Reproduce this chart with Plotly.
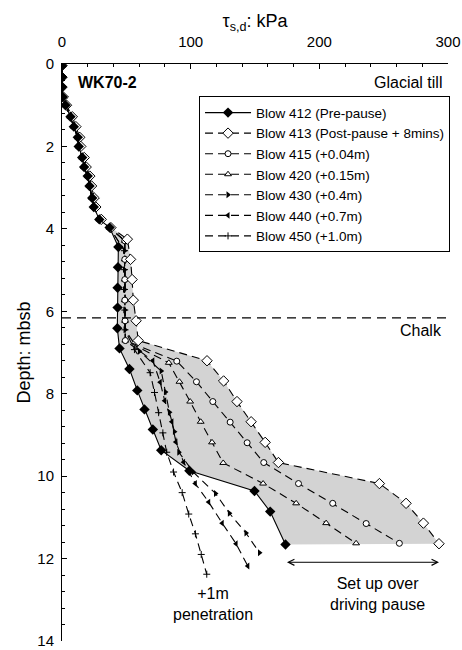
import plotly.graph_objects as go

# ---------------- data ----------------
# common profile in glacial till (all blows practically coincide)
D_TOP = [0.04, 0.32, 0.56, 0.80, 1.00, 1.28, 1.52, 1.78, 2.00, 2.27, 2.50, 2.72,
         2.96, 3.25, 3.47, 3.77, 3.97]
V_TOP_412 = [0, 0, 0, 0.5, 2.7, 6.6, 9.2, 12.3, 13.0, 15.7, 17.2, 20.0, 21.4,
             23.5, 24.7, 29.0, 37.0]
V_TOP_413 = [0, 0, 0, 1.0, 3.5, 8.0, 10.8, 13.8, 14.6, 17.3, 18.8, 21.6, 23.0,
             25.0, 26.3, 30.5, 38.0]

# Blow 412 (pre-pause)
D412 = D_TOP + [4.44, 4.93, 5.43, 5.91, 6.41, 6.90, 7.40, 7.92, 8.38, 8.87,
                9.37, 9.87, 10.36, 10.86, 11.66]
V412 = V_TOP_412 + [43.8, 43.5, 43.2, 43.2, 43.0, 44.7, 52.4, 58.5, 64.1, 70.6,
                    77.1, 99.0, 149.6, 161.8, 173.7]

# Blow 413 (post-pause + 8 mins)
D413 = D_TOP + [4.25, 4.74, 5.23, 5.73, 6.23, 6.71, 7.20, 7.69, 8.19, 8.68,
                9.18, 9.67, 10.18, 10.66, 11.14, 11.64]
V413 = V_TOP_413 + [50.8, 53.3, 54.5, 55.4, 57.6, 59.2, 112.7, 125.6, 136.0,
                    147.0, 157.9, 168.2, 246.7, 267.4, 280.9, 293.0]

# Blow 415 (+0.04 m)
D415 = D_TOP + [4.29, 4.74, 5.23, 5.73, 6.23, 6.71, 7.21, 7.71, 8.19, 8.69,
                9.19, 9.67, 10.18, 10.66, 11.15, 11.63]
V415 = V_TOP_412 + [48.8, 48.8, 48.8, 48.8, 49.0, 49.2, 89.2, 104.5, 117.2,
                    130.7, 143.9, 156.8, 183.8, 210.4, 236.4, 262.2]

# Blow 420 (+0.15 m)
D420 = D_TOP + [4.29, 4.74, 5.23, 5.73, 6.23, 6.71, 7.25, 7.71, 8.19, 8.68,
                9.18, 9.68, 10.18, 10.66, 11.14, 11.63]
V420 = V_TOP_412 + [48.8, 48.8, 48.8, 48.8, 49.0, 49.2, 83.0, 91.3, 99.6,
                    107.8, 116.6, 125.3, 156.3, 182.0, 205.3, 228.6]

# Blow 430 (+0.4 m)
D430 = D_TOP + [4.53, 4.99, 5.47, 5.97, 6.45, 6.97, 7.45, 7.96, 8.45, 8.92,
                9.42, 9.90, 10.42, 10.90, 11.38, 11.86]
V430 = V_TOP_412 + [48.6, 48.6, 48.6, 48.8, 49.0, 60.2, 77.1, 80.4, 83.5,
                    87.4, 90.8, 102.0, 119.3, 130.1, 143.0, 153.5]

# Blow 440 (+0.7 m)
D440 = D_TOP + [4.29, 4.74, 5.23, 5.73, 6.23, 6.71, 7.20, 7.72, 8.17, 8.68,
                9.17, 9.66, 10.18, 10.63, 11.14, 11.64, 12.18]
V440 = V_TOP_412 + [48.8, 48.8, 48.8, 48.8, 49.0, 49.2, 70.6, 76.3, 79.8,
                    85.4, 88.5, 94.5, 103.6, 114.0, 124.5, 135.3, 144.4]

# Blow 450 (+1.0 m)
D450 = D_TOP + [4.53, 4.99, 5.47, 5.97, 6.45, 6.93, 7.49, 7.97, 8.46, 8.95,
                9.42, 9.90, 10.40, 10.92, 11.40, 11.90, 12.38]
V450 = V_TOP_412 + [48.6, 48.6, 48.6, 48.8, 49.0, 56.3, 68.5, 71.9, 75.1,
                    78.4, 81.4, 86.7, 93.4, 98.5, 103.7, 108.2, 112.5]

NAMES = ["Blow 412 (Pre-pause)", "Blow 413 (Post-pause + 8mins)",
         "Blow 415 (+0.04m)", "Blow 420 (+0.15m)", "Blow 430 (+0.4m)",
         "Blow 440 (+0.7m)", "Blow 450 (+1.0m)"]

CHALK_DEPTH = 6.16
X_TICKS = [0, 100, 200, 300]
Y_TICKS = [0, 2, 4, 6, 8, 10, 12, 14]

# ---------------- figure ----------------
FONT = "Liberation Sans, Arial, sans-serif"
fig = go.Figure()

# shaded set-up zone between blow 412 and blow 413 (below the till profile)
k = len(D_TOP) - 1
fill_x = V413[k:] + V412[k:][::-1]
fill_y = D413[k:] + D412[k:][::-1]
fig.add_trace(go.Scatter(x=fill_x, y=fill_y, fill="toself", mode="none",
                         fillcolor="#d3d3d3", showlegend=False, hoverinfo="skip"))

DASH = "8px,5px"
OPEN = dict(color="white", line=dict(color="black", width=1))
styles = [
    (V412, D412, dict(symbol="diamond", size=8, color="black"), "solid"),
    (V413, D413, dict(symbol="diamond", size=8, **OPEN), DASH),
    (V415, D415, dict(symbol="circle", size=6, **OPEN), DASH),
    (V420, D420, dict(symbol="triangle-up", size=6, **OPEN), DASH),
    (V430, D430, dict(symbol="triangle-right", size=6, color="black"), DASH),
    (V440, D440, dict(symbol="triangle-left", size=6, color="black"), DASH),
    (V450, D450, dict(symbol="cross-thin", size=5, color="black",
                      line=dict(color="black", width=1)), DASH),
]

for (vx, dy, mk, dash), name in list(zip(styles, NAMES))[::-1]:
    fig.add_trace(go.Scatter(x=vx, y=dy, mode="lines+markers", name=name,
                             marker=mk,
                             line=dict(color="black", width=1.1, dash=dash)))

fig.add_shape(type="line", xref="paper", x0=0, x1=1, yref="y",
              y0=CHALK_DEPTH, y1=CHALK_DEPTH,
              line=dict(color="black", width=1.3, dash="9px,6px"))

ann_font = dict(family=FONT, size=16, color="black")
fig.add_annotation(x=11, y=0.45, text="<b>WK70-2</b>", showarrow=False,
                   xanchor="left", font=ann_font)
fig.add_annotation(x=297, y=0.45, text="Glacial till", showarrow=False,
                   xanchor="right", font=ann_font)
fig.add_annotation(x=297, y=6.47, text="Chalk", showarrow=False,
                   xanchor="right", font=ann_font)
fig.add_annotation(x=117, y=13.1, text="+1m<br>penetration", showarrow=False,
                   font=ann_font)
fig.add_annotation(x=245, y=12.87, text="Set up over<br>driving pause",
                   showarrow=False, font=ann_font)
# double-headed arrow spanning the set-up at the end of the pause
fig.add_annotation(x=V413[-1], y=12.09, ax=V412[-1], ay=12.09,
                   xref="x", yref="y", axref="x", ayref="y", text="",
                   showarrow=True, arrowside="end+start", arrowhead=5,
                   arrowsize=1.2, arrowwidth=1, arrowcolor="black")

fig.update_layout(
    width=462, height=650,
    margin=dict(l=62, r=14, t=64, b=9, autoexpand=False),
    paper_bgcolor="white", plot_bgcolor="white",
    font=dict(family=FONT, size=15, color="black"),
    showlegend=True,
    legend=dict(x=0.355, y=0.944, xanchor="left", yanchor="top",
                bgcolor="white", bordercolor="black", borderwidth=1,
                itemwidth=46,
                font=dict(family=FONT, size=13.5, color="black"),
                traceorder="reversed"),
    xaxis=dict(side="top", range=[0, 300], tickvals=X_TICKS,
               ticks="inside", ticklen=5, tickcolor="black",
               minor=dict(ticks="inside", ticklen=3, dtick=20,
                          tickcolor="black"),
               showline=True, linecolor="black", linewidth=1,
               showgrid=False, zeroline=False, ticklabelstandoff=10,
               title=dict(text="τ<sub>s,d</sub>: kPa", standoff=0,
                          font=dict(family=FONT, size=18))),
    yaxis=dict(range=[14, 0], tickvals=Y_TICKS,
               ticks="inside", ticklen=5, tickcolor="black",
               minor=dict(ticks="inside", ticklen=3, dtick=0.4,
                          tickcolor="black"),
               showline=True, linecolor="black", linewidth=1,
               showgrid=False, zeroline=False, ticklabelstandoff=4,
               ticklabeloverflow="allow",
               title=dict(text="Depth: mbsb", standoff=2,
                          font=dict(family=FONT, size=18))),
)

fig.write_html("out.html")
